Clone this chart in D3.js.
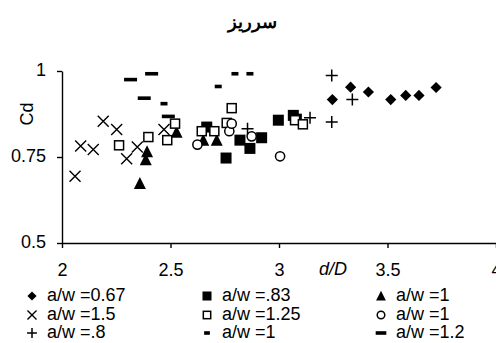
<!DOCTYPE html>
<html>
<head>
<meta charset="utf-8">
<script src="https://cdn.jsdelivr.net/npm/d3@7"></script>
<style>
  body { margin: 0; background: #fff; }
  svg text { font-family: "Liberation Sans", Arial, sans-serif; fill: #000; }
</style>
</head>
<body>
<svg id="chart" width="496" height="343"></svg>
<script>
// series: [d/D, Cd]
var diamond067 = [[3.246, 0.917], [3.330, 0.953], [3.412, 0.939], [3.515, 0.917], [3.584, 0.929], [3.645, 0.929], [3.724, 0.952]];
var fsquare083 = [[2.667, 0.837], [2.756, 0.747], [2.82, 0.799], [2.866, 0.775], [2.92, 0.806], [2.997, 0.857], [3.066, 0.871], [3.08, 0.86]];
var triangle1 = [[2.359, 0.673], [2.386, 0.742], [2.392, 0.765], [2.528, 0.822], [2.651, 0.799], [2.713, 0.799]];
var cross15 = [[2.06, 0.694], [2.086, 0.782], [2.144, 0.772], [2.19, 0.854], [2.252, 0.830], [2.298, 0.745], [2.347, 0.779], [2.47, 0.830]];
var osquare125 = [[2.263, 0.784], [2.398, 0.808], [2.485, 0.799], [2.521, 0.847], [2.644, 0.825], [2.702, 0.825], [2.759, 0.849], [2.782, 0.892], [3.074, 0.857], [3.11, 0.845]];
var circle1 = [[2.624, 0.786], [2.771, 0.825], [2.782, 0.847], [2.874, 0.81], [3.005, 0.752]];
var plus08 = [[2.855, 0.832], [3.143, 0.864], [3.243, 0.852], [3.243, 0.987], [3.338, 0.917]];
var dash1 = [[2.47, 0.905], [2.72, 0.955], [2.797, 0.992], [2.866, 0.992]];
var dash12 = [[2.316, 0.975], [2.413, 0.992], [2.379, 0.921], [2.49, 0.868]];

var legendLabels = ["a/w =0.67", "a/w =.83", "a/w =1", "a/w =1.5", "a/w =1.25", "a/w =1", "a/w =.8", "a/w =1", "a/w =1.2"];
var xTicks = [2, 2.5, 3, 3.5, 4];
var yTicks = [0.5, 0.75, 1];

var svg = d3.select("#chart");
var x = d3.scaleLinear().domain([2, 4]).range([62, 496]);
var y = d3.scaleLinear().domain([0.5, 1]).range([243, 71]);

// marker drawing, s = size scale
function marker(g, type, s) {
  if (type == "diamond") {
    g.append("path").attr("d", d3.symbol(d3.symbolDiamond2, 80 * s * s)()).attr("fill", "#000");
  } else if (type == "fsquare") {
    g.append("rect").attr("x", -5.5 * s).attr("y", -5.5 * s).attr("width", 11 * s).attr("height", 11 * s).attr("fill", "#000");
  } else if (type == "triangle") {
    g.append("path").attr("d", "M0," + (-6.5 * s) + "L" + (6 * s) + "," + (5.5 * s) + "L" + (-6 * s) + "," + (5.5 * s) + "Z").attr("fill", "#000");
  } else if (type == "cross") {
    var c = 5.5 * s;
    g.append("path").attr("d", "M" + -c + "," + -c + "L" + c + "," + c + "M" + c + "," + -c + "L" + -c + "," + c)
      .attr("stroke", "#000").attr("stroke-width", 1.4).attr("fill", "none");
  } else if (type == "osquare") {
    g.append("rect").attr("x", -4.5 * s).attr("y", -4.5 * s).attr("width", 9 * s).attr("height", 9 * s)
      .attr("fill", "#fff").attr("stroke", "#000").attr("stroke-width", 1.5);
  } else if (type == "circle") {
    g.append("circle").attr("r", 4.6 * s).attr("fill", "#fff").attr("stroke", "#000").attr("stroke-width", 1.5);
  } else if (type == "plus") {
    var p = 6 * s;
    g.append("path").attr("d", "M" + -p + ",0L" + p + ",0M0," + -p + "L0," + p)
      .attr("stroke", "#000").attr("stroke-width", 1.5).attr("fill", "none");
  } else if (type == "dash") {
    g.append("rect").attr("x", -3.5 * s).attr("y", -1.8).attr("width", 7 * s).attr("height", 3.6).attr("fill", "#000");
  } else if (type == "wdash") {
    g.append("rect").attr("x", -6.5 * s).attr("y", -1.8).attr("width", 13 * s).attr("height", 3.6).attr("fill", "#000");
  }
}

var series = [
  { data: diamond067, type: "diamond" },
  { data: fsquare083, type: "fsquare" },
  { data: triangle1, type: "triangle" },
  { data: cross15, type: "cross" },
  { data: osquare125, type: "osquare" },
  { data: circle1, type: "circle" },
  { data: plus08, type: "plus" },
  { data: dash1, type: "dash" },
  { data: dash12, type: "wdash" }
];

// axes
var yAxis = d3.axisLeft(y).tickValues(yTicks).tickSize(5).tickSizeOuter(0).tickFormat(d3.format("~g"));
var gy = svg.append("g").attr("transform", "translate(62,0)").call(yAxis);
gy.selectAll("text").style("font-size", "18px").attr("x", -16).attr("dy", "0.25em");

var xAxis = d3.axisBottom(x).tickValues(xTicks).tickSize(5).tickSizeOuter(0).tickFormat(d3.format("~g"));
var gx = svg.append("g").attr("transform", "translate(0,243)").call(xAxis);
gx.selectAll("text").style("font-size", "18px").attr("y", 20);

svg.selectAll(".domain, .tick line").attr("stroke", "#000").attr("stroke-width", 1.4);

// points
series.forEach(function (s) {
  svg.append("g").selectAll("g")
    .data(s.data)
    .enter().append("g")
    .attr("transform", function (d) { return "translate(" + x(d[0]) + "," + y(d[1]) + ")"; })
    .each(function () { marker(d3.select(this), s.type, 1); });
});

// title and labels
svg.append("text").attr("x", 252).attr("y", 28).attr("text-anchor", "middle")
  .style("font-size", "18px").style("font-weight", "bold").text("سرریز");

svg.append("text").attr("transform", "translate(33,114) rotate(-90)").attr("text-anchor", "middle")
  .style("font-size", "18px").text("Cd");

svg.append("text").attr("x", 333).attr("y", 275).attr("text-anchor", "middle")
  .style("font-size", "18px").style("font-style", "italic").text("d/D");

// legend
var colX = [32, 207, 381];
var rowY = [296, 315, 333];
var leg = svg.append("g").selectAll("g")
  .data(series)
  .enter().append("g")
  .attr("transform", function (d, i) { return "translate(" + colX[i % 3] + "," + rowY[Math.floor(i / 3)] + ")"; });
leg.each(function (d) { marker(d3.select(this), d.type, 0.82); });
leg.append("text").attr("x", 15).attr("y", 5).style("font-size", "18px")
  .text(function (d, i) { return legendLabels[i]; });
</script>
</body>
</html>
